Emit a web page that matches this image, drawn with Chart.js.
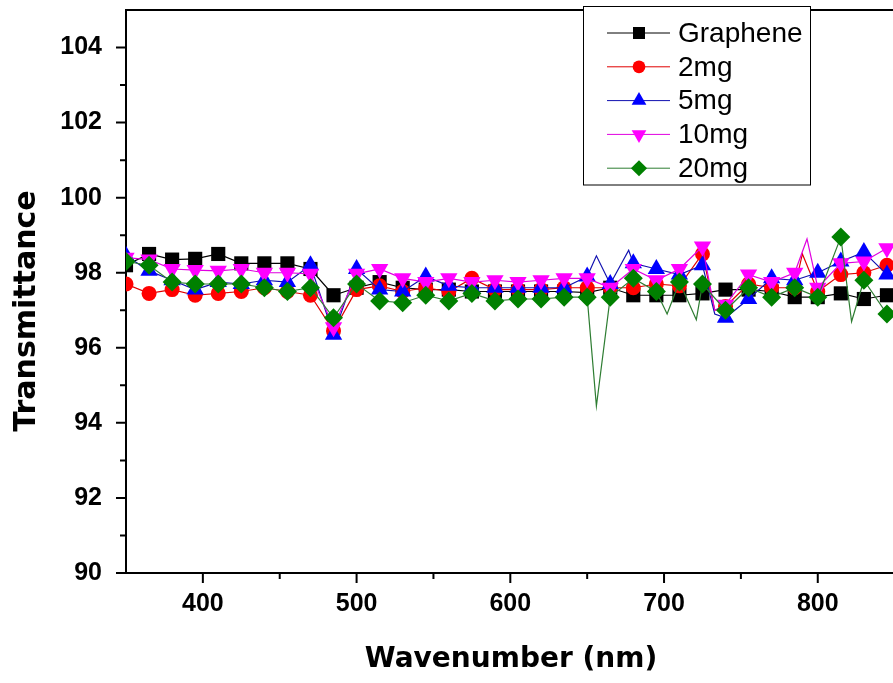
<!DOCTYPE html>
<html>
<head>
<meta charset="utf-8">
<script src="https://cdn.jsdelivr.net/npm/chart.js@4.4.1/dist/chart.umd.min.js"></script>
<style>
  html, body { margin: 0; padding: 0; background: #fff; overflow: hidden; }
  #wrap { width: 920px; height: 683px; }
</style>
</head>
<body>
<div id="wrap"><canvas id="chart" width="920" height="683"></canvas></div>
<script>
// ── Data ──
const wavelengths = [350, 365, 380, 395, 410, 425, 440, 455, 470, 485, 500, 515, 530, 545, 560, 575, 590,
                     605, 620, 635, 650, 665, 680, 695, 710, 725, 740, 755, 770, 785, 800, 815, 830, 845];

const graphene = [98.2, 98.5, 98.35, 98.37, 98.5, 98.25, 98.25, 98.25, 98.1, 97.4, 97.6, 97.75, 97.6, 97.55, 97.55, 97.5, 97.5,
                  97.5, 97.5, 97.5, 97.47, 97.6, 97.4, 97.4, 97.4, 97.45, 97.55, 97.55, 97.5, 97.35, 97.35, 97.45, 97.3, 97.4];
const mg2  = [97.7, 97.45, 97.55, 97.4, 97.45, 97.5, 97.6, 97.5, 97.4, 96.45, 97.55, 97.65, 97.5, 97.6, 97.5, 97.85, 97.55,
              97.55, 97.55, 97.6, 97.6, 97.6, 97.6, 97.7, 97.65, 98.5, 97.1, 97.7, 97.6, 97.6, 97.5, 97.95, 98.0, 98.2];
const mg5  = [98.45, 98.05, 97.8, 97.55, 97.75, 97.7, 97.8, 97.75, 98.2, 96.35, 98.1, 97.55, 97.5, 97.9, 97.65, 97.6, 97.6,
              97.6, 97.6, 97.6, 97.9, 97.7, 98.25, 98.1, 97.95, 98.2, 96.8, 97.3, 97.85, 97.8, 98.0, 98.3, 98.55, 97.95];
const mg10 = [98.4, 98.35, 98.1, 98.07, 98.05, 98.1, 98.0, 98.0, 97.97, 96.55, 97.97, 98.1, 97.85, 97.75, 97.85, 97.75, 97.8,
              97.75, 97.8, 97.85, 97.85, 97.6, 98.1, 97.8, 98.1, 98.7, 97.15, 97.95, 97.75, 98.0, 97.6, 98.25, 98.3, 98.65];
const mg20 = [98.3, 98.2, 97.75, 97.7, 97.7, 97.7, 97.6, 97.5, 97.6, 96.8, 97.7, 97.25, 97.2, 97.4, 97.25, 97.45, 97.25,
              97.3, 97.3, 97.35, 97.35, 97.35, 97.85, 97.5, 97.75, 97.7, 97.0, 97.6, 97.35, 97.6, 97.35, 98.95, 97.8, 96.9];

// points between symbols (spikes in the raw spectra)
const spikeX2  = [733, 790];          const spikeY2  = [97.0, 98.5];
const spikeX5  = [656, 677, 733];     const spikeY5  = [98.45, 98.6, 96.9];
const spikeX10 = [733, 793];          const spikeY10 = [97.0, 98.9];
const spikeX20 = [656, 702, 721, 822]; const spikeY20 = [94.45, 96.9, 96.75, 96.7];

const seriesNames = ['Graphene', '2mg', '5mg', '10mg', '20mg'];

const xMajor = [400, 500, 600, 700, 800];
const xMinor = [450, 550, 650, 750, 850];
const yMajor = [90, 92, 94, 96, 98, 100, 102, 104];
const yMinor = [91, 93, 95, 97, 99, 101, 103];

// ── Helpers ──
function buildSeries(values, exX = [], exY = []) {
  const pts = wavelengths.map((x, i) => ({ x, y: values[i], marker: true }));
  exX.forEach((x, i) => pts.push({ x, y: exY[i], marker: false }));
  return pts.sort((a, b) => a.x - b.x);
}

const styles = [
  { color: '#000000', line: '#000000', style: 'rect',     rot: 0,   r: 10  },
  { color: '#ff0000', line: '#e00000', style: 'circle',   rot: 0,   r: 7.5 },
  { color: '#0000ff', line: '#1010b0', style: 'triangle', rot: 0,   r: 10  },
  { color: '#ff00ff', line: '#e000e0', style: 'triangle', rot: 180, r: 10  },
  { color: '#008000', line: '#2e7d32', style: 'rectRot',  rot: 0,   r: 9.5 },
];

const seriesData = [
  buildSeries(graphene),
  buildSeries(mg2, spikeX2, spikeY2),
  buildSeries(mg5, spikeX5, spikeY5),
  buildSeries(mg10, spikeX10, spikeY10),
  buildSeries(mg20, spikeX20, spikeY20),
];

const datasets = seriesNames.map((name, i) => ({
  label: name,
  data: seriesData[i],
  order: 5 - i,
  borderColor: styles[i].line,
  borderWidth: 1.2,
  backgroundColor: styles[i].color,
  pointBackgroundColor: styles[i].color,
  pointBorderWidth: 0,
  pointStyle: styles[i].style,
  pointRotation: styles[i].rot,
  pointRadius: c => (c.raw && c.raw.marker ? styles[i].r : 0),
  pointHoverRadius: 0,
  tension: 0,
  clip: 0,
}));

// ── Frame, minor ticks, titles, legend ──
const decorations = {
  id: 'decorations',
  afterDraw(chart) {
    const { ctx, chartArea: a } = chart;
    const xs = chart.scales.x, ys = chart.scales.y;
    ctx.save();
    ctx.strokeStyle = '#000';
    ctx.lineWidth = 2;
    ctx.beginPath();
    ctx.moveTo(a.left, a.top);
    ctx.lineTo(a.right, a.top);
    yMajor.forEach(v => { const p = ys.getPixelForValue(v); ctx.moveTo(a.left - 10, p); ctx.lineTo(a.left, p); });
    yMinor.forEach(v => { const p = ys.getPixelForValue(v); ctx.moveTo(a.left - 6, p); ctx.lineTo(a.left, p); });
    xMajor.forEach(v => { const p = xs.getPixelForValue(v); ctx.moveTo(p, a.bottom); ctx.lineTo(p, a.bottom + 10); });
    xMinor.forEach(v => { const p = xs.getPixelForValue(v); ctx.moveTo(p, a.bottom); ctx.lineTo(p, a.bottom + 6); });
    ctx.stroke();

    // axis titles
    ctx.fillStyle = '#000';
    ctx.font = 'bold 28px "DejaVu Sans"';
    ctx.textAlign = 'center';
    ctx.textBaseline = 'middle';
    ctx.fillText('Wavenumber (nm)', 511, 660);
    ctx.save();
    ctx.translate(27, 311);
    ctx.rotate(-Math.PI / 2);
    ctx.font = 'bold 30px "DejaVu Sans"';
    ctx.fillText('Transmittance', 0, 0);
    ctx.restore();

    // legend
    ctx.lineWidth = 1;
    ctx.fillStyle = '#fff';
    ctx.fillRect(583, 7, 227, 178);
    ctx.strokeStyle = '#000';
    ctx.strokeRect(583.5, 6.5, 227, 178.5);
    ctx.font = '28px "Liberation Sans", Arial, sans-serif';
    ctx.textAlign = 'left';
    seriesNames.forEach((name, i) => {
      const y = 33 + i * 33.8;
      ctx.strokeStyle = styles[i].line;
      ctx.beginPath();
      ctx.moveTo(607, y);
      ctx.lineTo(670, y);
      ctx.stroke();
      ctx.fillStyle = styles[i].color;
      Chart.helpers.drawPoint(ctx, {
        pointStyle: styles[i].style, rotation: styles[i].rot,
        radius: styles[i].r * 0.85, borderWidth: 0,
      }, 639, y);
      ctx.fillStyle = '#000';
      ctx.fillText(name, 678, y + 1);
    });
    ctx.restore();
  }
};

// ── Chart ──
new Chart(document.getElementById('chart'), {
  type: 'line',
  data: { datasets },
  options: {
    responsive: false,
    animation: false,
    devicePixelRatio: 1,
    layout: { padding: { left: 0, right: 10, top: 6, bottom: 0 } },
    plugins: { legend: { display: false }, tooltip: { enabled: false } },
    scales: {
      x: {
        type: 'linear',
        min: 350,
        max: 860,
        afterFit: s => { s.height = 110; s.paddingLeft = 0; s.paddingRight = 0; },
        afterBuildTicks: s => { s.ticks = xMajor.map(v => ({ value: v })); },
        grid: { drawOnChartArea: false, drawTicks: false },
        border: { display: true, color: '#000', width: 2 },
        ticks: {
          color: '#000',
          padding: 16,
          maxRotation: 0,
          font: { family: '"Liberation Sans", Arial', size: 25, weight: 'bold' },
        },
      },
      y: {
        min: 90,
        max: 105,
        afterFit: s => { s.width = 126; s.paddingTop = 0; s.paddingBottom = 0; },
        afterBuildTicks: s => { s.ticks = yMajor.map(v => ({ value: v })); },
        grid: { drawOnChartArea: false, drawTicks: false },
        border: { display: true, color: '#000', width: 2 },
        ticks: {
          color: '#000',
          padding: 24,
          font: { family: '"Liberation Sans", Arial', size: 25, weight: 'bold' },
        },
      },
    },
  },
  plugins: [decorations],
});
</script>
</body>
</html>
